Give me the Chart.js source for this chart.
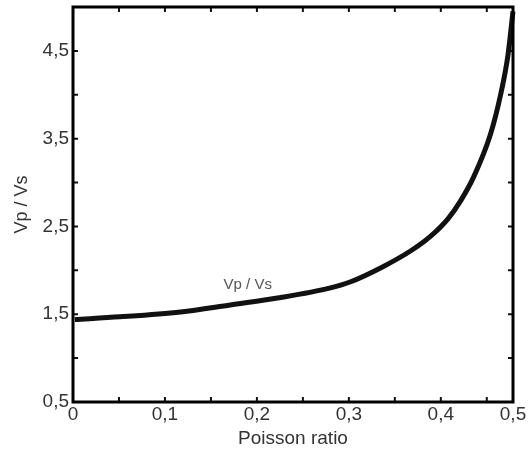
<!DOCTYPE html>
<html>
<head>
<meta charset="utf-8">
<script src="https://cdn.jsdelivr.net/npm/chart.js@4"></script>
<style>
html,body{margin:0;padding:0;background:#fff;}
#wrap{width:528px;height:452px;position:relative;}
</style>
</head>
<body>
<div id="wrap"><canvas id="c"></canvas></div>
<script>
// Data (x in axis units, end of axis labelled "0,5")
const poisson = [0.002, 0.051, 0.117, 0.171, 0.226, 0.280, 0.302, 0.335, 0.367, 0.389, 0.408, 0.422, 0.436, 0.454, 0.465, 0.473, 0.4785];
const vpvs    = [1.44, 1.47, 1.526, 1.606, 1.69, 1.80, 1.87, 2.03, 2.22, 2.39, 2.59, 2.80, 3.07, 3.55, 4.00, 4.45, 4.95];
const xTickValues = [0, 0.05, 0.1, 0.15, 0.2, 0.25, 0.3, 0.35, 0.4, 0.45, 0.4785];
const xTickLabels = ['0', '', '0,1', '', '0,2', '', '0,3', '', '0,4', '', '0,5'];
const yTickValues = [0.5, 1, 1.5, 2, 2.5, 3, 3.5, 4, 4.5, 5];
const yTickLabels = ['0,5', '', '1,5', '', '2,5', '', '3,5', '', '4,5', ''];
const seriesLabel = 'Vp / Vs';
const xTitle = 'Poisson ratio';
const yTitle = 'Vp / Vs';
const inlineLabelPos = {x: 0.19, y: 1.83};

const points = poisson.map((x, i) => ({x: x, y: vpvs[i]}));
const FONT = '"Liberation Sans", Arial, sans-serif';

const framePlugin = {
  id: 'frame',
  afterDatasetsDraw(chart) {
    const {ctx, chartArea: a, scales} = chart;
    ctx.save();
    ctx.strokeStyle = '#111';
    ctx.lineWidth = 2;
    ctx.beginPath();
    scales.x.ticks.forEach(t => {
      const px = scales.x.getPixelForValue(t.value);
      ctx.moveTo(px, a.bottom); ctx.lineTo(px, a.bottom - 5);
      ctx.moveTo(px, a.top); ctx.lineTo(px, a.top + 5);
    });
    scales.y.ticks.forEach(t => {
      const py = scales.y.getPixelForValue(t.value);
      ctx.moveTo(a.left, py); ctx.lineTo(a.left + 5, py);
      ctx.moveTo(a.right, py); ctx.lineTo(a.right - 5, py);
    });
    ctx.stroke();
    ctx.strokeStyle = '#000';
    ctx.lineWidth = 3;
    ctx.strokeRect(a.left, a.top, a.right - a.left, a.bottom - a.top);
    ctx.fillStyle = '#555';
    ctx.font = '15px ' + FONT;
    ctx.textAlign = 'center';
    ctx.textBaseline = 'middle';
    ctx.fillText(seriesLabel, scales.x.getPixelForValue(inlineLabelPos.x), scales.y.getPixelForValue(inlineLabelPos.y));
    ctx.restore();
  }
};

new Chart(document.getElementById('c'), {
  type: 'scatter',
  data: {
    datasets: [{
      label: seriesLabel,
      data: points,
      showLine: true,
      borderColor: '#111',
      borderWidth: 5,
      pointRadius: 0,
      cubicInterpolationMode: 'monotone',
      clip: 3
    }]
  },
  options: {
    responsive: true,
    maintainAspectRatio: false,
    animation: false,
    layout: {padding: {left: 0, right: 15, top: 7, bottom: 0}},
    plugins: {legend: {display: false}, tooltip: {enabled: false}},
    scales: {
      x: {
        type: 'linear',
        min: 0,
        max: 0.4785,
        afterBuildTicks: s => { s.ticks = xTickValues.map(v => ({value: v})); },
        afterFit: s => { s.height = 50; s.paddingLeft = 0; s.paddingRight = 0; },
        grid: {display: false, drawTicks: false},
        border: {display: false},
        ticks: {
          autoSkip: false,
          maxRotation: 0,
          padding: 1,
          color: '#333',
          font: {family: FONT, size: 19},
          callback: (v, i) => xTickLabels[i]
        },
        title: {
          display: true, text: xTitle, color: '#333',
          font: {family: FONT, size: 19},
          padding: {top: 0, bottom: 2}
        }
      },
      y: {
        type: 'linear',
        min: 0.5,
        max: 5,
        afterBuildTicks: s => { s.ticks = yTickValues.map(v => ({value: v})); },
        afterFit: s => { s.width = 73; s.paddingTop = 0; s.paddingBottom = 0; },
        grid: {display: false, drawTicks: false},
        border: {display: false},
        ticks: {
          autoSkip: false,
          padding: 4,
          color: '#333',
          font: {family: FONT, size: 19},
          callback: (v, i) => yTickLabels[i]
        },
        title: {
          display: true, text: yTitle, color: '#333',
          font: {family: FONT, size: 18},
          padding: {top: 11, bottom: 0}
        }
      }
    }
  },
  plugins: [framePlugin]
});
</script>
</body>
</html>
